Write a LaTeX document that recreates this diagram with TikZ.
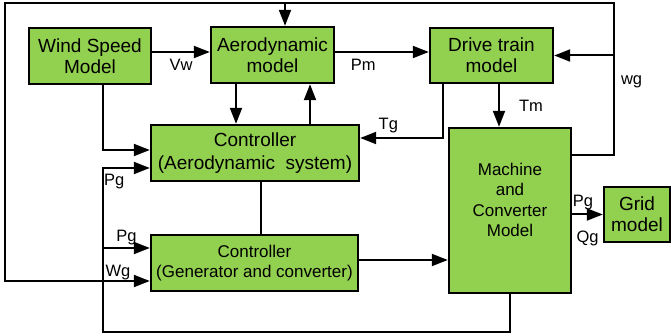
\documentclass[tikz,border=0pt]{standalone}
\usepackage{fontspec}
\setmainfont{Liberation Sans}
\usepackage{xcolor}
\usetikzlibrary{arrows.meta}
\definecolor{leaf}{HTML}{92D050}
\tikzset{
  box/.style={rectangle, draw=black, fill=leaf, line width=2.4pt, align=center, inner sep=0pt, font=\fontsize{19}{21}\selectfont},
  smallbox/.style={box, font=\fontsize{17}{20.5}\selectfont},
  arrow/.style={-{Triangle[length=16pt, width=12pt]}, line width=2pt},
  wire/.style={line width=2pt},
  sig/.style={font=\fontsize{16.5}{18}\selectfont, inner sep=1pt},
}
\begin{document}
\begin{tikzpicture}[x=1pt, y=-1pt]
  \useasboundingbox (0,0) rectangle (671,336);
  \node[box, minimum width=122pt, minimum height=56pt] (windmodel) at (90,56) {Wind Speed\\Model};
  \node[box, minimum width=123pt, minimum height=56pt] (aeromodel) at (272.5,55) {Aerodynamic\\model};
  \node[box, minimum width=123pt, minimum height=55pt] (drivetrain) at (491.5,55.5) {Drive train\\model};
  \node[box, minimum width=208pt, minimum height=56pt, font=\fontsize{19}{23}\selectfont] (ctrlaero) at (255,153) {Controller\\(Aerodynamic\ \ system)};
  \node[smallbox, minimum width=207pt, minimum height=56pt] (ctrlgen) at (254.5,263) {Controller\\(Generator and converter)};
  \node[smallbox, minimum width=122pt, minimum height=165pt] (machine) at (510,210.5) {Machine\\and\\Converter\\Model\\[1pt]\mbox{}};
  \node[box, minimum width=66pt, minimum height=55pt] (grid) at (637,214.5) {Grid\\model};
  \coordinate (topleft) at (5,3);
  \coordinate (wgturn) at (614,155);
  \coordinate (bottomleft) at (103,332);
  \coordinate (aerotop) at ([xshift=12.5pt]aeromodel.north);
  \coordinate (aerodown) at ([xshift=-36.5pt]aeromodel.south);
  \coordinate (aeroup) at ([xshift=37.5pt]aeromodel.south);
  \coordinate (windfoot) at ([xshift=13pt]windmodel.south);
  \coordinate (tgfoot) at ([xshift=-48.5pt]drivetrain.south);
  \coordinate (tmfoot) at ([xshift=7.5pt]drivetrain.south);
  \coordinate (ctrllink) at ([xshift=6pt]ctrlaero.south);
  \draw[arrow] ([yshift=4pt]windmodel.east) -- ([yshift=4pt]windmodel.east -| aeromodel.west) node[sig, midway, below=5pt]{Vw};
  \draw[arrow] ([yshift=3pt]aeromodel.east) -- ([yshift=3pt]aeromodel.east -| drivetrain.west) node[sig, pos=0.3, below=5pt]{Pm};
  \draw[arrow] (aerotop |- topleft) -- (aerotop);
  \draw[arrow] (aerodown) -- (aerodown |- ctrlaero.north);
  \draw[arrow] (aeroup |- ctrlaero.north) -- (aeroup);
  \draw[arrow] (windfoot) |- ([yshift=3pt]ctrlaero.west);
  \draw[arrow] (machine.south) |- (bottomleft) |- ([yshift=-15pt]ctrlaero.west) node[sig, pos=0.62, below=4pt]{Pg};
  \draw[arrow] ([yshift=15pt]ctrlgen.west -| bottomleft) -- ([yshift=15pt]ctrlgen.west) node[sig, midway, above=1pt]{Pg};
  \draw[wire] (ctrllink) -- (ctrllink |- ctrlgen.north);
  \draw[arrow] (tgfoot) |- ([yshift=15pt]ctrlaero.east) node[sig, pos=0.83, above=3pt]{Tg};
  \draw[arrow] (tmfoot) -- (tmfoot |- machine.north) node[sig, midway, right=18pt]{Tm};
  \draw[arrow] ([yshift=3pt]ctrlgen.east) -- ([yshift=3pt]ctrlgen.east -| machine.west);
  \draw[arrow] (machine.east |- wgturn) -- (wgturn) |- (drivetrain.east) node[sig, pos=0.37, right=5pt]{wg};
  \draw[arrow] (wgturn) |- (topleft) |- ([yshift=-18pt]ctrlgen.west) node[sig, pos=0.89, above=-1pt]{Wg};
  \draw[arrow] (grid.west -| machine.east) -- (grid.west) node[sig, pos=0.35, above=3pt]{Pg} node[sig, midway, below=14pt]{Qg};
\end{tikzpicture}
\end{document}
